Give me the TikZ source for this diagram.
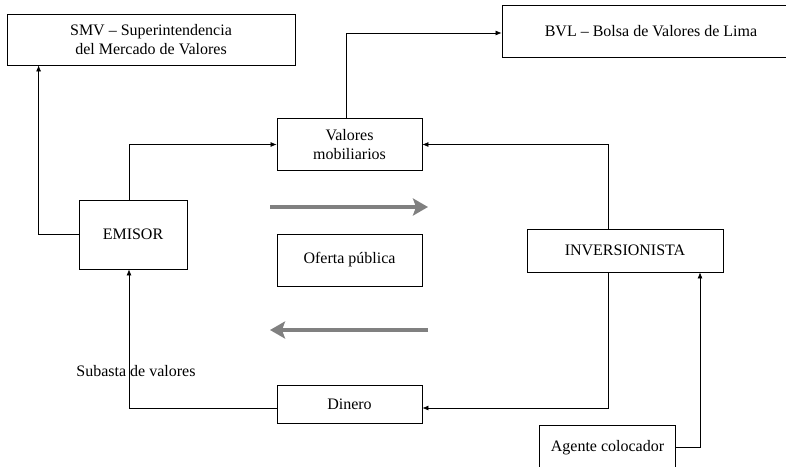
\documentclass[tikz,border=0pt]{standalone}
\usepackage{fontspec}
\setmainfont{Liberation Serif}
\usepackage{tikz}
\usetikzlibrary{arrows.meta}

\tikzset{
  caja/.style={draw,line width=0.8pt,inner sep=0pt,align=center,
    font=\fontsize{16}{19}\selectfont},
  flecha/.style={line width=0.7pt,-{Latex[length=6pt,width=5pt]}},
  gruesa/.style={line width=4.5pt,black!50,-{Stealth[length=15pt,width=17pt,inset=3pt]}}
}

\begin{document}
\begin{tikzpicture}[x=1pt,y=-1pt]
		\clip (0,0) rectangle (786,466);
		\node[caja,minimum width=288,minimum height=51] at (151,39.5) (smv) {SMV -- Superintendencia\\del Mercado de Valores};
		\node[caja,minimum width=298,minimum height=52] at (651,31) (bvl) {BVL -- Bolsa de Valores de Lima};
		\node[caja,minimum width=145,minimum height=52] at (349.5,144.5) (valores) {Valores\\mobiliarios};
		\node[caja,minimum width=108,minimum height=69] at (133,234.5) (emisor) {EMISOR};
		\node[caja,minimum width=145,minimum height=52] at (349.5,260) (oferta) {Oferta pública};
		\node[caja,minimum width=196,minimum height=43] at (625,250.5) (inversionista) {INVERSIONISTA};
		\node[caja,minimum width=145,minimum height=38] at (349.5,404.5) (dinero) {Dinero};
		\node[caja,minimum width=136,minimum height=45] at (607.5,447.5) (agente) {Agente colocador};
		\node[font=\fontsize{16}{19}\selectfont] at (136,371) (subasta) {Subasta de valores};
		\coordinate (ida1) at (270,207);
		\coordinate (ida2) at (428,207);
		\coordinate (vuelta1) at (428,330);
		\coordinate (vuelta2) at (270,330);
		\draw[flecha] (emisor.west) -| ([xshift=32pt]smv.south west);
		\draw[flecha] ([xshift=-4pt]emisor.north) |- (valores.west);
		\draw[flecha] ([xshift=-3pt]valores.north) |- ([yshift=-2pt]bvl.west);
		\draw[flecha] ([xshift=-17pt]inversionista.north) |- (valores.east);
		\draw[flecha] ([xshift=-17pt]inversionista.south) |- ([yshift=-3.5pt]dinero.east);
		\draw[flecha] ([yshift=-3.5pt]dinero.west) -| ([xshift=-4pt]emisor.south);
		\draw[flecha] (agente.east) -| ([xshift=75pt]inversionista.south);
		\draw[gruesa] (ida1) -- (ida2);
		\draw[gruesa] (vuelta1) -- (vuelta2);
	\end{tikzpicture}
\end{document}
